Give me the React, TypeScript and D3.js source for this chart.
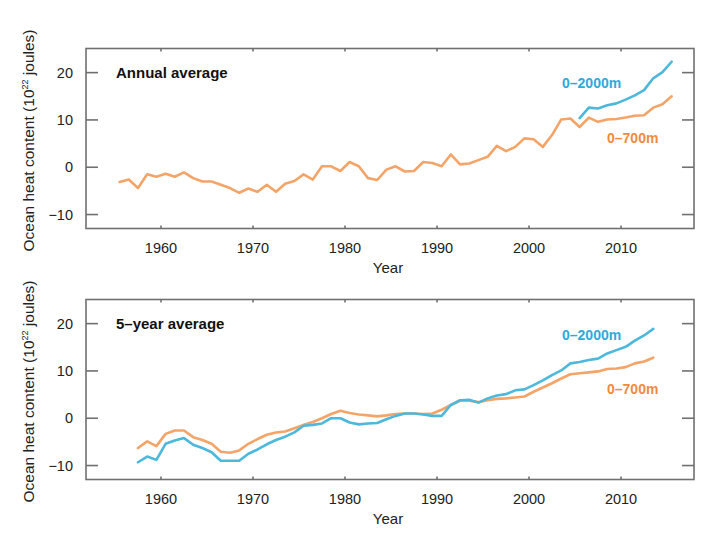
import React from "react";
import * as d3 from "d3";

const annualYears = d3.range(1955, 2016);
const annual700 = [
  -3.1, -2.6, -4.4, -1.5, -2.0, -1.4, -2.0, -1.1, -2.3, -3.0,
  -3.0, -3.7, -4.4, -5.4, -4.5, -5.2, -3.7, -5.2, -3.5, -2.9,
  -1.5, -2.6, 0.2, 0.2, -0.8, 1.1, 0.2, -2.3, -2.7, -0.5,
  0.2, -0.9, -0.8, 1.1, 0.9, 0.2, 2.7, 0.6, 0.8, 1.5,
  2.2, 4.5, 3.4, 4.3, 6.1, 5.9, 4.3, 6.8, 10.1, 10.3,
  8.5, 10.5, 9.6, 10.1, 10.2, 10.5, 10.9, 11.0, 12.6, 13.3,
  15.0,
];
const annual2000Years = d3.range(2005, 2016);
const annual2000 = [10.4, 12.6, 12.4, 13.1, 13.5, 14.3, 15.2, 16.3, 18.8, 20.1, 22.3];

const fiveYears = d3.range(1957, 2014);
const five700 = [
  -6.3, -4.9, -5.9, -3.3, -2.6, -2.6, -4.0, -4.6, -5.4, -7.1,
  -7.3, -6.8, -5.4, -4.4, -3.5, -3.0, -2.8, -2.1, -1.4, -0.8,
  0.0, 0.9, 1.6, 1.1, 0.8, 0.6, 0.4, 0.6, 0.9, 1.0,
  1.0, 0.9, 1.0, 1.8, 2.8, 3.7, 3.7, 3.4, 3.8, 4.1,
  4.2, 4.4, 4.6, 5.6, 6.5, 7.4, 8.4, 9.3, 9.5, 9.7,
  9.9, 10.4, 10.5, 10.8, 11.6, 12.0, 12.8,
];
const five2000 = [
  -9.3, -8.1, -8.8, -5.4, -4.7, -4.2, -5.6, -6.3, -7.2, -9.0,
  -9.0, -9.0, -7.5, -6.6, -5.5, -4.6, -3.9, -3.0, -1.6, -1.4,
  -1.1, 0.0, 0.0, -0.9, -1.3, -1.1, -1.0, -0.2, 0.5, 1.0,
  1.0, 0.8, 0.5, 0.5, 2.8, 3.8, 3.9, 3.3, 4.2, 4.8,
  5.1, 5.9, 6.1, 7.0, 8.0, 9.1, 10.1, 11.6, 11.9, 12.3,
  12.6, 13.7, 14.4, 15.1, 16.4, 17.5, 18.9,
];

const xTicks = [1960, 1970, 1980, 1990, 2000, 2010];
const yTicks = [-10, 0, 10, 20];

const ORANGE = "#F5A468";
const BLUE = "#4CB8DC";
const ORANGE_TXT = "#F08B3D";
const BLUE_TXT = "#2EA9DD";
const FRAME = "#707070";
const FONT = "Liberation Sans, Arial, Helvetica, sans-serif";

const left = 86;
const right = 694;
const plotH = 180;

const x = d3.scaleLinear().domain([1951.85, 2017.93]).range([left, right]);

type Series = { years: number[]; values: number[]; color: string };

function Panel({ top, title, series, lbl2000Y, lbl700Y }: { top: number; title: string; series: Series[]; lbl2000Y: number; lbl700Y: number }) {
  const y = d3.scaleLinear().domain([-12.95, 25.1]).range([top + plotH, top]);
  const bottom = top + plotH;
  return (
    <g>
      {series.map((s, i) => {
        const line = d3
          .line<number>()
          .x((_, j) => x(s.years[j] + 0.5))
          .y((v) => y(v));
        return (
          <path key={i} d={line(s.values) || ""} fill="none" stroke={s.color} strokeWidth={2.6} strokeLinejoin="round" strokeLinecap="round" />
        );
      })}
      <rect x={left} y={top} width={right - left} height={plotH} fill="none" stroke={FRAME} strokeWidth={1.6} />
      {yTicks.map((t) => (
        <g key={t}>
          <line x1={left} x2={left + 12} y1={y(t)} y2={y(t)} stroke={FRAME} strokeWidth={1.6} />
          <line x1={right - 12} x2={right} y1={y(t)} y2={y(t)} stroke={FRAME} strokeWidth={1.6} />
          <text x={73} y={y(t) + 5} textAnchor="end" fontSize={14.5} fill="#222" fontFamily={FONT}>
            {t < 0 ? "\u2212" + Math.abs(t) : t}
          </text>
        </g>
      ))}
      {xTicks.map((t) => (
        <g key={t}>
          <line x1={x(t)} x2={x(t)} y1={top} y2={top + 3} stroke={FRAME} strokeWidth={1.6} />
          <line x1={x(t)} x2={x(t)} y1={bottom} y2={bottom - 3} stroke={FRAME} strokeWidth={1.6} />
          <text x={x(t)} y={bottom + 24} textAnchor="middle" fontSize={14.5} fill="#222" fontFamily={FONT}>
            {t}
          </text>
        </g>
      ))}
      <text x={388} y={bottom + 44} textAnchor="middle" fontSize={15} fill="#222" fontFamily={FONT}>
        Year
      </text>
      <text transform={`translate(34, ${top + 92}) rotate(-90)`} textAnchor="middle" fontSize={15.5} fill="#222" fontFamily={FONT}>
        Ocean heat content (10
        <tspan fontSize={9} dy={-6}>22</tspan>
        <tspan dy={6}> joules)</tspan>
      </text>
      <text x={116} y={top + 29} fontSize={15} fontWeight="bold" fill="#111" fontFamily={FONT}>
        {title}
      </text>
      <text x={562} y={lbl2000Y} fontSize={14} fontWeight="bold" fill={BLUE_TXT} fontFamily={FONT}>
        0–2000m
      </text>
      <text x={607} y={lbl700Y} fontSize={14} fontWeight="bold" fill={ORANGE_TXT} fontFamily={FONT}>
        0–700m
      </text>
    </g>
  );
}

export default function App() {
  return (
    <svg width={720} height={543} style={{ position: "absolute", left: 0, top: 0, background: "#fff" }}>
      <Panel
        top={48.5}
        title="Annual average"
        series={[
          { years: annualYears, values: annual700, color: ORANGE },
          { years: annual2000Years, values: annual2000, color: BLUE },
        ]}
        lbl2000Y={88}
        lbl700Y={143}
      />
      <Panel
        top={299.5}
        title="5–year average"
        series={[
          { years: fiveYears, values: five700, color: ORANGE },
          { years: fiveYears, values: five2000, color: BLUE },
        ]}
        lbl2000Y={340}
        lbl700Y={394}
      />
    </svg>
  );
}
